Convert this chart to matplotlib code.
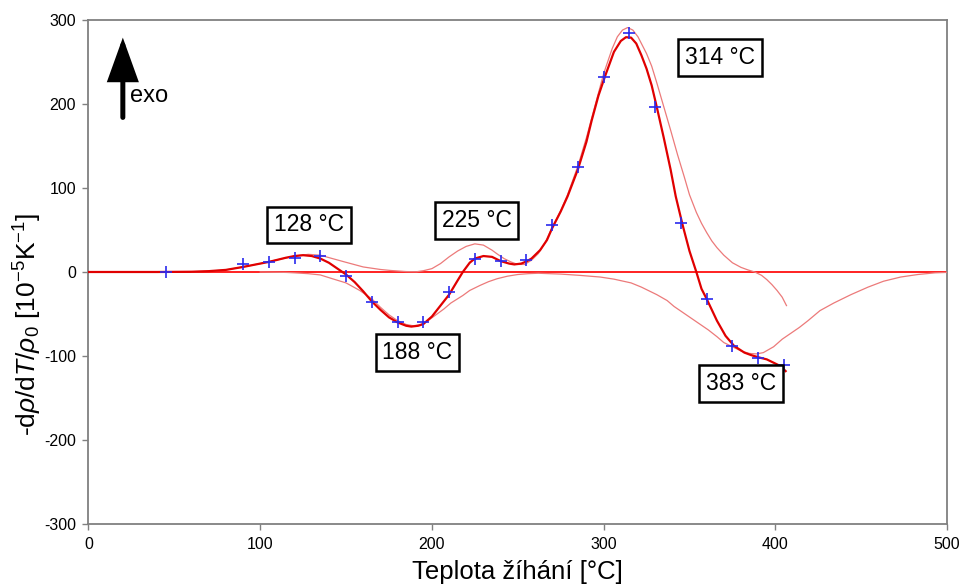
import matplotlib
matplotlib.use("Agg")
import matplotlib.pyplot as plt

plt.rcParams["font.family"] = ["Liberation Sans", "DejaVu Sans"]
plt.rcParams["mathtext.fontset"] = "custom"
plt.rcParams["mathtext.rm"] = "Liberation Sans"
plt.rcParams["mathtext.it"] = "Liberation Sans:italic"
plt.rcParams["mathtext.bf"] = "Liberation Sans:bold"
plt.rcParams["axes.unicode_minus"] = False

# measured points
meas_T = [45, 90, 105, 120, 135, 150, 165, 180, 195, 210, 225, 240, 255,
          270, 285, 300, 315, 330, 345, 360, 375, 390, 405]
meas_v = [0, 9, 12, 17, 19, -5, -36, -59, -60, -24, 16, 13, 14,
          56, 125, 232, 285, 197, 58, -32, -88, -102, -111]

# total fit
fit_T = [0, 40, 60, 70, 80, 90, 100, 105, 110, 115, 120, 125, 130, 135, 140,
         145, 150, 155, 160, 165, 170, 175, 180, 185, 188, 192, 195, 200, 205,
         210, 215, 218, 222, 225, 230, 235, 240, 245, 248, 252, 255, 258, 263,
         267, 270, 275, 279, 285, 290, 293, 297, 301, 306, 310, 313, 316, 319,
         322, 325, 328, 331, 335, 339, 342, 346, 350, 354, 357, 360, 363, 366,
         371, 376, 382, 386, 391, 395, 399, 403, 406]
fit_v = [0, 0, 0.3, 1, 2.5, 6, 10, 12, 14.5, 17, 19, 20, 19, 16, 11,
         4, -3, -12, -23, -35, -45, -54, -60, -64, -65, -64, -62, -53, -40,
         -27, -10, 0, 11, 16, 19, 18, 13, 10, 9, 10, 12.5, 16, 26,
         38, 52, 72, 90, 122, 155, 180, 210, 234, 262, 275, 279.5, 279, 272,
         258, 242, 222, 196, 160, 122, 90, 56, 25, 0, -20, -32, -45, -58,
         -76, -88, -96, -99, -102, -104, -108, -112, -118]

# exothermic components
exo_T = [60, 70, 80, 90, 100, 110, 120, 128, 135, 142, 150, 160, 170, 176,
         185, 191, 195, 200, 205, 210, 215, 220, 225, 230, 235, 238, 242, 246,
         250, 254, 258, 262, 266, 270, 275, 279, 285, 290, 295, 300, 305, 308,
         311, 314, 317, 320, 323, 325, 328, 331, 335, 339, 343, 347, 350, 354,
         357, 360, 363, 366, 370, 375, 380, 384, 388, 392, 395, 398, 401, 404,
         406.5]
exo_v = [0.3, 1, 2.5, 6, 10, 14.5, 19, 21, 20, 16, 11.5, 6, 3, 1.8,
         0.5, 0.3, 1.5, 4, 10, 18, 25, 30.5, 33.5, 32, 26, 21.5, 16, 12,
         9, 9, 14, 22, 35, 53, 73, 92, 126, 160, 198, 236, 266, 280,
         288, 291, 288, 280, 268, 260, 245, 225, 197, 169, 140, 113, 92, 71,
         58, 47, 37, 29, 20, 11, 5.5, 2.5, 0, -4, -9, -15, -22, -30,
         -40]

# endothermic components
endo_T = [100, 115, 120, 128, 135, 142, 150, 158, 165, 170, 175, 180, 185,
          189, 193, 197, 203, 207, 211, 218, 222, 228, 233, 238, 244, 250,
          256, 262, 275, 286, 298, 306, 316, 322, 331, 337, 341, 346, 351,
          356, 361, 366, 370, 376, 380, 385, 389, 393, 399, 404, 409, 414,
          419, 426, 434, 444, 454, 463, 473, 483, 493, 500]
endo_v = [0, -0.5, -1, -2, -3.5, -8, -13, -22, -32, -42, -51, -58, -62.5,
          -64, -63, -59, -50, -44, -37, -28, -22, -16, -11.5, -8, -5, -3,
          -2, -1.5, -2.5, -4, -6, -8.5, -13, -18, -27, -34, -41, -48, -55,
          -62, -69, -77, -84, -90, -94, -97, -97.5, -96, -89, -80, -73, -66,
          -58, -46, -37, -27, -18, -11, -6, -3, -1, -0.5]

peak_labels = ["128 °C", "188 °C", "225 °C", "314 °C", "383 °C"]
label_T = [128.6, 191.6, 226, 367.6, 380]
label_v = [56, -96, 61, 255, -133]

fig = plt.figure(figsize=(9.64, 5.86), dpi=100)
ax = fig.add_axes([0.0918, 0.1058, 0.8906, 0.8601])

ax.axhline(0, color="#ff1010", lw=1.3, zorder=2)
ax.plot(exo_T, exo_v, color="#ec7a7a", lw=0.9, zorder=3)
ax.plot(endo_T, endo_v, color="#ec7a7a", lw=0.9, zorder=3)
ax.plot(fit_T, fit_v, color="#e00000", lw=1.6, zorder=4)
ax.plot(meas_T, meas_v, linestyle="none", marker="+", ms=8, mew=1.2,
        color="#2a2aee", zorder=5)

for txt, tx, ty in zip(peak_labels, label_T, label_v):
    ax.text(tx, ty, txt, fontsize=16.5, ha="center", va="center", zorder=6,
            bbox=dict(boxstyle="square,pad=0.3", facecolor="white",
                      edgecolor="black", linewidth=1.8))

# exo direction arrow
ax.annotate("", xy=(20, 279), xytext=(20, 184),
            arrowprops=dict(arrowstyle="-|>,head_length=2.5,head_width=0.9",
                            mutation_scale=10, lw=3.6, color="black",
                            shrinkA=0, shrinkB=0, joinstyle="miter"))
ax.text(24, 209, "exo", fontsize=17, ha="left", va="center")

ax.set_xlim(0, 500)
ax.set_ylim(-300, 300)
ax.set_xticks(range(0, 501, 100))
ax.set_yticks(range(-300, 301, 100))
ax.tick_params(axis="both", direction="out", length=4, width=1,
               color="#808080", labelsize=11.5, pad=5)
for s in ax.spines.values():
    s.set_color("#808080")
    s.set_linewidth(1.3)

ax.set_xlabel("Teplota žíhání [°C]", fontsize=18.5, labelpad=6)
ax.set_ylabel(r"-d$\rho$/d$T$/$\rho_0$ [10$^{-5}$K$^{-1}$]", fontsize=19)
ax.yaxis.set_label_coords(-0.052, 0.395)

fig.savefig("out.png", dpi=100)
